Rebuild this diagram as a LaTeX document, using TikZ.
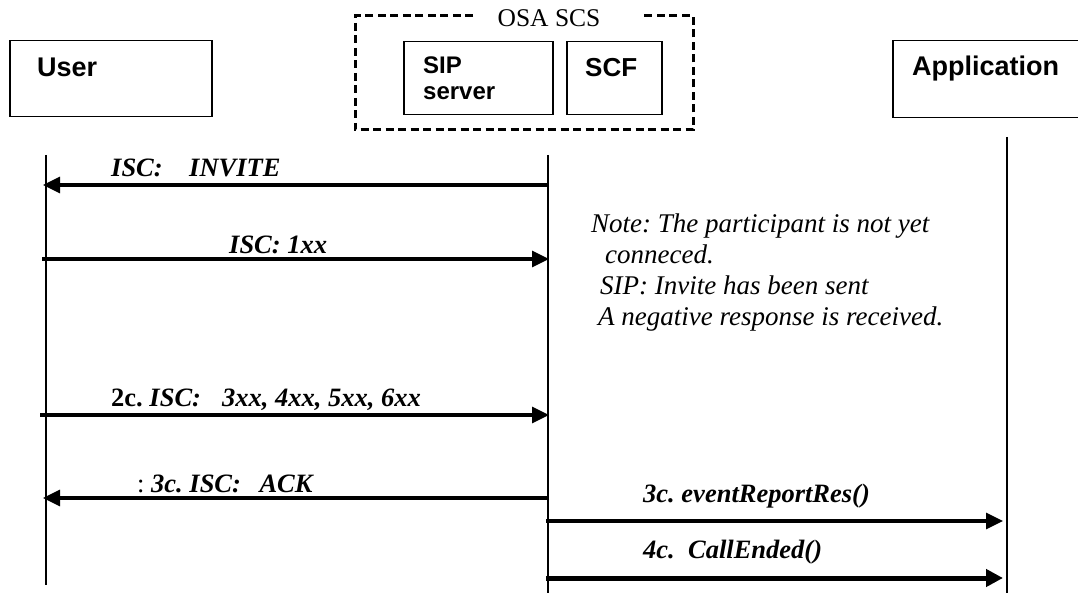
\documentclass[tikz,border=0pt]{standalone}
\usepackage{fontspec}
\setmainfont{Liberation Serif}
\newfontfamily\arialfont{Liberation Sans}
\usetikzlibrary{arrows.meta}
\frenchspacing
\begin{document}
\begin{tikzpicture}[x=1pt,y=-1pt,
  box/.style={draw, line width=1.5pt, rectangle, inner sep=0pt, anchor=north west},
  boxtxt/.style={font=\arialfont\bfseries\fontsize{27}{30}\selectfont, inner sep=0pt, anchor=base west},
  lifeline/.style={line width=1.5pt},
  msg/.style={line width=3.2pt, -{Triangle[length=17pt,width=16pt]}},
  msgthick/.style={line width=5pt, -{Triangle[length=17pt,width=17pt]}},
  lbl/.style={font=\fontsize{26.5}{30}\selectfont\bfseries\itshape, inner sep=0pt, anchor=base west},
  notetxt/.style={font=\fontsize{27}{31}\selectfont\itshape, inner sep=0pt, anchor=north west, align=left},
  scs/.style={line width=3pt, dash pattern=on 8pt off 4.5pt}
]
\useasboundingbox (0,0) rectangle (1078,593);

% dashed OSA SCS group
\draw[scs] (473,16) -- (355,16) -- (355,130) -- (693,130) -- (693,16) -- (643,16);
\node[font=\fontsize{25.5}{28}\selectfont, inner sep=0pt, anchor=base] (osa) at (549,27) {OSA SCS};

% boxes
\node[box, minimum width=202pt, minimum height=76pt] (user) at (9,40) {};
\node[boxtxt] (userlbl) at (37,77) {User};
\node[box, minimum width=149pt, minimum height=73pt] (sip) at (403,41) {};
\node[boxtxt, font=\arialfont\bfseries\fontsize{24}{26}\selectfont] (siplbl) at (423,74) {SIP};
\node[boxtxt, font=\arialfont\bfseries\fontsize{24}{26}\selectfont] (serverlbl) at (423,100) {server};
\node[box, minimum width=95pt, minimum height=73pt] (scf) at (566,41) {};
\node[boxtxt, font=\arialfont\bfseries\fontsize{26}{28}\selectfont] (scflbl) at (585,77) {SCF};
\node[box, minimum width=200pt, minimum height=77pt] (app) at (892,40) {};
\node[boxtxt] (applbl) at (912,76) {Application};

% lifelines
\coordinate (uT) at (46,155);
\coordinate (uB) at (46,585);
\coordinate (sT) at (548,155);
\coordinate (sB) at (548,593);
\coordinate (aT) at (1007,137);
\coordinate (aB) at (1007,593);
\draw[lifeline] (uT) -- (uB);
\draw[lifeline] (sT) -- (sB);
\draw[lifeline] (aT) -- (aB);

% message end points
\coordinate (s1) at (549,185); \coordinate (u1) at (43,185);
\coordinate (u2) at (42,259);  \coordinate (s2) at (549,259);
\coordinate (u3) at (40,415);  \coordinate (s3) at (549,415);
\coordinate (s4) at (549,498); \coordinate (u4) at (43,498);
\coordinate (s5) at (546,521); \coordinate (a5) at (1003,521);
\coordinate (s6) at (546,578); \coordinate (a6) at (1003,578);

\draw[msg] (s1) -- (u1);
\draw[msg] (u2) -- (s2);
\draw[msg] (u3) -- (s3);
\draw[msg] (s4) -- (u4);
\draw[msg] (s5) -- (a5);
\draw[msgthick] (s6) -- (a6);

% labels
\node[lbl] (l1) at (111,177) {ISC:\hspace{1em}INVITE};
\node[lbl] (l2) at (229,254) {ISC: 1xx};
\node[lbl] (l3) at (111,406) {\upshape 2c. \itshape ISC:\hspace{0.8em}3xx, 4xx, 5xx, 6xx};
\node[lbl] (l4) at (137,492) {\mdseries\upshape :\ \bfseries\itshape 3c. ISC:\hspace{0.7em}ACK};
\node[lbl] (l5) at (643,502) {3c. eventReportRes()};
\node[lbl] (l6) at (643,558) {4c.\ \ CallEnded()};

% note
\node[notetxt] (note) at (591,214) {Note: The participant is not yet\\
\hspace*{14pt}conneced.\\
\hspace*{9pt}SIP: Invite has been sent\\
\hspace*{7pt}A negative response is received.};
\end{tikzpicture}
\end{document}
